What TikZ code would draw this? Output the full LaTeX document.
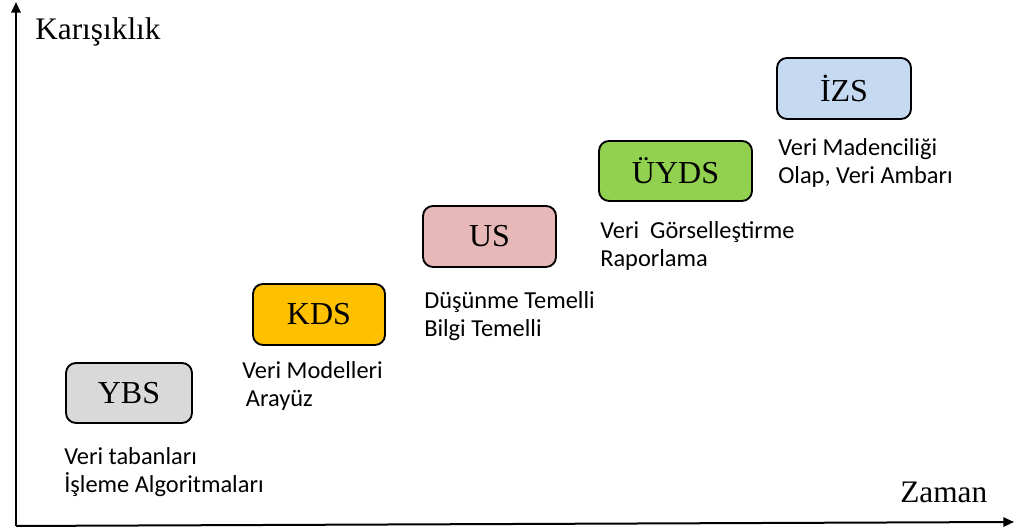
\documentclass[tikz,border=0pt]{standalone}
\usepackage{fontspec}
\setmainfont{Liberation Serif}
\newfontfamily\calibri{Carlito}
\usetikzlibrary{arrows.meta}
\definecolor{ybsgray}{HTML}{D9D9D9}
\definecolor{kdsyellow}{HTML}{FFC000}
\definecolor{uspink}{HTML}{E6B8B7}
\definecolor{uydsgreen}{HTML}{92D050}
\definecolor{izsblue}{HTML}{C5D9F1}
\begin{document}
\begin{tikzpicture}[x=0.75pt,y=0.75pt,
  axis/.style={line width=1.5pt,-{Triangle[length=8pt,width=7pt]}},
  sysbox/.style={draw,line width=1.4pt,rounded corners=7.5pt,inner sep=0pt,font=\fontsize{24}{28}\selectfont},
  lbl/.style={inner sep=0pt,align=left,anchor=base west,font=\calibri\fontsize{18.3}{21}\selectfont},
  axlbl/.style={inner sep=0pt,anchor=base west,font=\fontsize{23.5}{28}\selectfont}]
\useasboundingbox (0,0) rectangle (1015,530);
\coordinate (o) at (16,4);
\coordinate (ytop) at (16,528);
\coordinate (xend) at (1014,8);
\draw[axis] (o) -- (ytop);
\draw[axis] (o) -- (xend);
\node[axlbl] (karisiklik) at (35,490) {Karışıklık};
\node[axlbl] (zaman) at (900,27) {Zaman};
\node[sysbox,fill=ybsgray,minimum width=94.5pt,minimum height=45pt] (ybs) at (129,137) {YBS};
\node[sysbox,fill=kdsyellow,minimum width=99pt,minimum height=45.75pt] (kds) at (319,215.5) {KDS};
\node[sysbox,fill=uspink,minimum width=99.75pt,minimum height=45.75pt] (us) at (489.5,293.5) {US};
\node[sysbox,fill=uydsgreen,minimum width=114.75pt,minimum height=45pt] (uyds) at (675.5,359) {ÜYDS};
\node[sysbox,fill=izsblue,minimum width=100.5pt,minimum height=45.75pt] (izs) at (844,441.5) {İZS};
\node[lbl] (ybsT) at (64,37) {Veri tabanları\\İşleme Algoritmaları};
\node[lbl] (kdsT) at (242,123) {Veri Modelleri\\\hspace{0.15em}Arayüz};
\node[lbl] (usT) at (424,193) {Düşünme Temelli\\Bilgi Temelli};
\node[lbl] (uydsT) at (600,263) {Veri~~Görselleştirme\\Raporlama};
\node[lbl] (izsT) at (778,346) {Veri Madenciliği\\Olap, Veri Ambarı};
\end{tikzpicture}
\end{document}
